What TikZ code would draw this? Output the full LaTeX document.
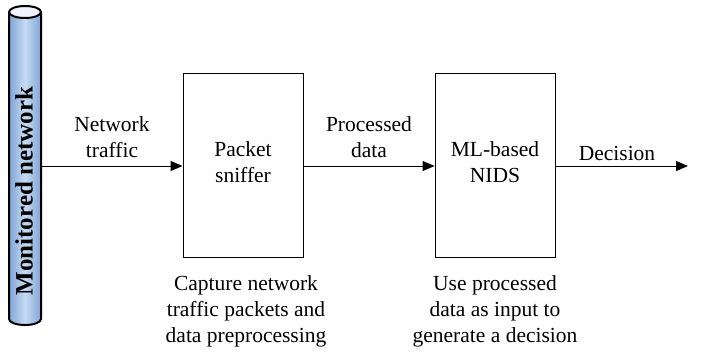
\documentclass[tikz,border=0pt]{standalone}
\usepackage{fontspec}
\setmainfont{Liberation Serif}
\usetikzlibrary{arrows.meta}
\definecolor{pipeedge}{HTML}{7FA5D6}
\definecolor{pipemid}{HTML}{C6DBF2}
\definecolor{pipetop}{HTML}{F2F2FC}
\begin{document}
\begin{tikzpicture}[x=1bp,y=-1bp,
  lbl/.style={font=\fontsize{21.5bp}{26bp}\selectfont, align=center, inner sep=0pt},
  block/.style={draw, line width=0.9bp, minimum width=120bp, minimum height=184bp, inner sep=0pt},
  flow/.style={line width=0.9bp, -{Triangle[length=12bp,width=10bp]}}]
\useasboundingbox (0,0) rectangle (712,352);

% monitored network pipe
\shade[left color=pipeedge, right color=pipeedge, middle color=pipemid]
  (9,12) -- (9,319) arc[start angle=180, end angle=360, x radius=16bp, y radius=6bp] -- (41,12) -- cycle;
\draw[line width=2bp] (9,12) -- (9,319) arc[start angle=180, end angle=360, x radius=16bp, y radius=6bp] -- (41,12);
\draw[line width=2bp, fill=pipetop] (25,12) ellipse[x radius=16bp, y radius=6bp];
\node[rotate=90, font=\fontsize{25bp}{28bp}\selectfont\bfseries, inner sep=0pt] (net) at (24,191) {Monitored network};
\coordinate (tap) at (41,166);

% processing blocks
\node[block] (sniff) at (243,165) {};
\node[lbl] at (243,162) {Packet\\sniffer};
\node[block] (nids) at (495,165) {};
\node[lbl] at (495,162) {ML-based\\NIDS};
\coordinate (out) at (688,166);

% connectors
\draw[flow] (tap) -- (tap -| sniff.west);
\draw[flow] (sniff.east |- tap) -- (tap -| nids.west);
\draw[flow] (nids.east |- tap) -- (out);

% connector labels
\node[lbl] (l1) at (112,137) {Network\\traffic};
\node[lbl] (l2) at (369,137) {Processed\\data};
\node[lbl] (l3) at (617,153) {Decision};

% captions
\node[lbl] (c1) at (246,311) {Capture network\\traffic packets and\\data preprocessing};
\node[lbl] (c2) at (495,311) {Use processed\\data as input to\\generate a decision};
\end{tikzpicture}
\end{document}
